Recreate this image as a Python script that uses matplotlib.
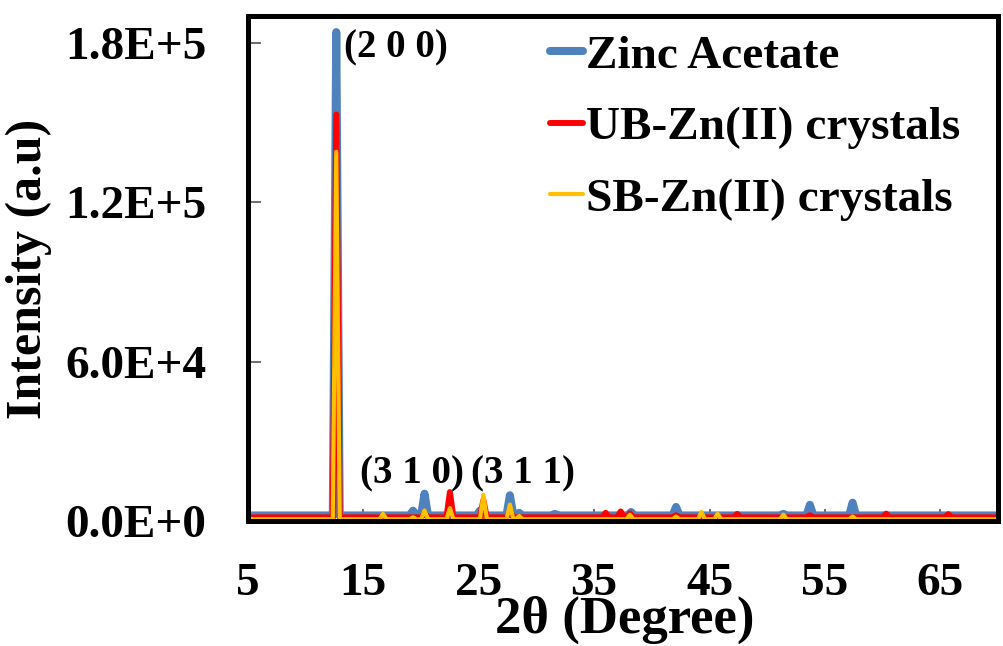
import matplotlib
matplotlib.use("Agg")
import matplotlib.pyplot as plt
from matplotlib.ticker import FuncFormatter

plt.rcParams['font.family'] = ['Liberation Serif', 'DejaVu Serif']
plt.rcParams['font.weight'] = 'bold'

# peak positions (2theta, deg) and heights (counts) for each sample
zinc_pos = [12.65, 19.3, 20.3, 25.1, 27.7, 28.5, 31.6, 38.2, 42.1, 51.4, 53.7, 57.4]
zinc_h = [184000, 4000, 10400, 4000, 9800, 3200, 2800, 3500, 5400, 2800, 6200, 7000]
zinc_base = 2200

ub_pos = [12.65, 20.3, 22.5, 25.4, 27.7, 36.0, 37.3, 38.1, 42.1, 47.4, 53.7, 60.3, 65.7]
ub_h = [153000, 3000, 11000, 8000, 4000, 3200, 3700, 3000, 2300, 2800, 2300, 2900, 2700]
ub_base = 1500

sb_pos = [12.65, 16.7, 19.3, 20.3, 22.5, 25.4, 27.7, 28.5, 38.1, 42.1, 44.3, 45.7, 51.4, 57.4]
sb_h = [139000, 2800, 1500, 4100, 5000, 10000, 6300, 2000, 2500, 1800, 3500, 2800, 2500, 1800]
sb_base = 800

labels = ["Zinc Acetate", "UB-Zn(II) crystals", "SB-Zn(II) crystals"]
colors = ["#4F81BD", "#FF0000", "#FFC000"]
widths = [5.8, 4.3, 3.0]

hkl = ["(2 0 0)", "(3 1 0)", "(3 1 1)"]
hkl_x = [13.3, 14.75, 24.3]
hkl_y = [178000, 18000, 18000]


def pattern(pos, h, base, x0=5, x1=70, hw=0.3):
    xs, ys = [x0], [base]
    for p, v in zip(pos, h):
        xs += [p - hw, p, p + hw]
        ys += [base, v, base]
    xs.append(x1)
    ys.append(base)
    return xs, ys


fig = plt.figure(figsize=(10.04, 6.46), dpi=100)
ax = fig.add_axes([0.247, 0.193, 0.747, 0.782])

series = [(zinc_pos, zinc_h, zinc_base), (ub_pos, ub_h, ub_base), (sb_pos, sb_h, sb_base)]
for (pos, h, base), lab, c, lw in zip(series, labels, colors, widths):
    x, y = pattern(pos, h, base)
    ax.plot(x, y, color=c, lw=lw, label=lab, solid_capstyle='round', solid_joinstyle='round')

for t, x, y in zip(hkl, hkl_x, hkl_y):
    ax.text(x, y, t, fontsize=28, fontweight='bold', ha='left', va='center')

ax.set_xlim(5, 70)
ax.set_ylim(0, 190000)
ax.set_xticks([5, 15, 25, 35, 45, 55, 65])
ax.set_yticks([0, 60000, 120000, 180000])


def sci(v, _):
    if v == 0:
        return "0.0E+0"
    e = len(str(int(abs(v)))) - 1
    return f"{v / 10**e:.1f}E+{e}"


ax.yaxis.set_major_formatter(FuncFormatter(sci))
ax.tick_params(axis='both', direction='in', colors='#555555', labelcolor='black',
               labelsize=34, length=9, width=1.2)
ax.tick_params(axis='y', pad=30)
ax.tick_params(axis='x', pad=30)
for s in ax.spines.values():
    s.set_linewidth(3.6)

ax.set_xlabel("2θ (Degree)", fontsize=38, fontweight='bold', va='top')
ax.xaxis.set_label_coords(0.503, -0.148)
ax.set_ylabel("Intensity (a.u)", fontsize=36, fontweight='bold')
ax.yaxis.set_label_coords(-0.261, 0.5)

ax.legend(loc='upper left', bbox_to_anchor=(0.362, 1.024), frameon=False, fontsize=34,
          handlelength=0.7, handletextpad=0.05, labelspacing=0.6, borderpad=0.15)

fig.savefig("out.png", dpi=100)
